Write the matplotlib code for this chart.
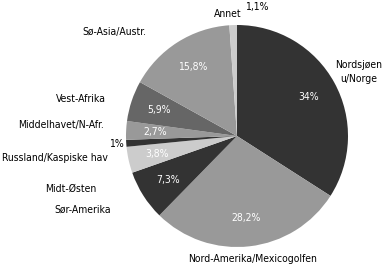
import matplotlib
matplotlib.use('Agg')
import matplotlib.pyplot as plt
from matplotlib import font_manager
import numpy as np

# data
regions = ['Nordsjøen\nu/Norge', 'Nord-Amerika/Mexicogolfen', 'Sør-Amerika', 'Midt-Østen',
           'Russland/Kaspiske hav', 'Middelhavet/N-Afr.', 'Vest-Afrika', 'Sø-Asia/Austr.', 'Annet']
shares = [34, 28.2, 7.3, 3.8, 1, 2.7, 5.9, 15.8, 1.1]
pct_labels = ['34%', '28,2%', '7,3%', '3,8%', '1%', '2,7%', '5,9%', '15,8%', '1,1%']

colors = ['#333333', '#999999', '#333333', '#cccccc', '#333333',
          '#999999', '#666666', '#999999', '#cccccc']

fonts = font_manager.fontManager.ttflist
narrow = [f for f in fonts if f.name == 'Liberation Sans Narrow']
condensed = [f for f in fonts if f.name == 'DejaVu Sans' and f.stretch == 'condensed']
if narrow:
    fprops = dict(family='Liberation Sans Narrow', fontsize=8)
elif condensed:
    fprops = dict(family='DejaVu Sans', stretch='condensed', fontsize=7.5)
else:
    fprops = dict(family='DejaVu Sans', fontsize=6.8)

W, H = 388, 265
fig = plt.figure(figsize=(W / 100, H / 100), dpi=100)
ax = fig.add_axes([0, 0, 1, 1])

cx, cy, r = 237, H - 136, 111
wedges, _ = ax.pie(shares, colors=colors, startangle=90, counterclock=False,
                   center=(cx, cy), radius=r, frame=True,
                   wedgeprops=dict(linewidth=0))
ax.set_xlim(0, W)
ax.set_ylim(0, H)
ax.set_aspect('equal')
ax.axis('off')

# percentage labels inside slices, small ones outside
total = sum(shares)
ang = 90.0
for i, v in enumerate(shares):
    span = 360 * v / total
    mid = np.deg2rad(ang - span / 2)
    ang -= span
    col = 'white'
    if pct_labels[i] == '1%':
        x, y = 116, H - 144
        col = 'black'
    elif pct_labels[i] == '1,1%':
        x, y = 257, H - 7
        col = 'black'
    else:
        x, y = cx + 0.74 * r * np.cos(mid), cy + 0.74 * r * np.sin(mid)
    ax.text(x, y, pct_labels[i], color=col, ha='center', va='center', **fprops)

# category label positions (pixel coordinates)
label_pos = [(359, 72), (253, 259), (83, 210), (71, 189), (55, 158),
             (61, 125), (81, 99), (114, 32), (228, 14)]
for name, (x, y) in zip(regions, label_pos):
    ax.text(x, H - y, name, ha='center', va='center', linespacing=1.5, **fprops)

fig.savefig('out.png', dpi=100)
